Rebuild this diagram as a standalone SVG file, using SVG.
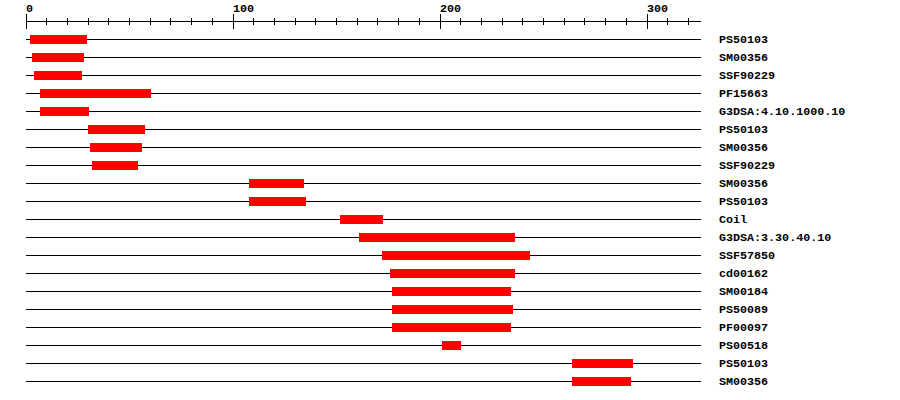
<svg xmlns="http://www.w3.org/2000/svg" width="900" height="400" viewBox="0 0 900 400">
<style>
.bg{fill:#ffffff}
.ax{stroke:#000;stroke-width:1;fill:none;shape-rendering:crispEdges}
.tk{stroke:#000;stroke-width:1;shape-rendering:crispEdges}
.ln{stroke:#000;stroke-width:1;shape-rendering:crispEdges}
.bar{fill:#ff0000;shape-rendering:crispEdges}
text{font-family:"Liberation Mono","DejaVu Sans Mono",monospace;font-size:11.7px;font-weight:bold;fill:#000}
</style>
<rect class="bg" x="0" y="0" width="900" height="400"/>
<g id="axis">
<line class="ax" x1="26" y1="21.5" x2="701" y2="21.5"/>
<path class="tk" d="M26.5 14V29M233.5 14V29M440.5 14V29M647.5 14V29"/>
<path class="tk" d="M46.5 18V25M67.5 18V25M88.5 18V25M108.5 18V25M129.5 18V25M150.5 18V25M170.5 18V25M191.5 18V25M212.5 18V25M253.5 18V25M274.5 18V25M295.5 18V25M315.5 18V25M336.5 18V25M357.5 18V25M377.5 18V25M398.5 18V25M419.5 18V25M460.5 18V25M481.5 18V25M502.5 18V25M522.5 18V25M543.5 18V25M564.5 18V25M584.5 18V25M605.5 18V25M626.5 18V25M667.5 18V25M688.5 18V25"/>
<text x="26" y="12">0</text>
<text x="233" y="12">100</text>
<text x="440" y="12">200</text>
<text x="647" y="12">300</text>
</g>
<g id="row1"><line class="ln" x1="26" y1="39.5" x2="701" y2="39.5"/><rect class="bar" x="30" y="35" width="57" height="9"/><text x="719" y="43">PS50103</text></g>
<g id="row2"><line class="ln" x1="26" y1="57.5" x2="701" y2="57.5"/><rect class="bar" x="32" y="53" width="52" height="9"/><text x="719" y="61">SM00356</text></g>
<g id="row3"><line class="ln" x1="26" y1="75.5" x2="701" y2="75.5"/><rect class="bar" x="34" y="71" width="48" height="9"/><text x="719" y="79">SSF90229</text></g>
<g id="row4"><line class="ln" x1="26" y1="93.5" x2="701" y2="93.5"/><rect class="bar" x="40" y="89" width="111" height="9"/><text x="719" y="97">PF15663</text></g>
<g id="row5"><line class="ln" x1="26" y1="111.5" x2="701" y2="111.5"/><rect class="bar" x="40" y="107" width="49" height="9"/><text x="719" y="115">G3DSA:4.10.1000.10</text></g>
<g id="row6"><line class="ln" x1="26" y1="129.5" x2="701" y2="129.5"/><rect class="bar" x="88" y="125" width="57" height="9"/><text x="719" y="133">PS50103</text></g>
<g id="row7"><line class="ln" x1="26" y1="147.5" x2="701" y2="147.5"/><rect class="bar" x="90" y="143" width="52" height="9"/><text x="719" y="151">SM00356</text></g>
<g id="row8"><line class="ln" x1="26" y1="165.5" x2="701" y2="165.5"/><rect class="bar" x="92" y="161" width="46" height="9"/><text x="719" y="169">SSF90229</text></g>
<g id="row9"><line class="ln" x1="26" y1="183.5" x2="701" y2="183.5"/><rect class="bar" x="249" y="179" width="55" height="9"/><text x="719" y="187">SM00356</text></g>
<g id="row10"><line class="ln" x1="26" y1="201.5" x2="701" y2="201.5"/><rect class="bar" x="249" y="197" width="57" height="9"/><text x="719" y="205">PS50103</text></g>
<g id="row11"><line class="ln" x1="26" y1="219.5" x2="701" y2="219.5"/><rect class="bar" x="340" y="215" width="43" height="9"/><text x="719" y="223">Coil</text></g>
<g id="row12"><line class="ln" x1="26" y1="237.5" x2="701" y2="237.5"/><rect class="bar" x="359" y="233" width="156" height="9"/><text x="719" y="241">G3DSA:3.30.40.10</text></g>
<g id="row13"><line class="ln" x1="26" y1="255.5" x2="701" y2="255.5"/><rect class="bar" x="382" y="251" width="148" height="9"/><text x="719" y="259">SSF57850</text></g>
<g id="row14"><line class="ln" x1="26" y1="273.5" x2="701" y2="273.5"/><rect class="bar" x="390" y="269" width="125" height="9"/><text x="719" y="277">cd00162</text></g>
<g id="row15"><line class="ln" x1="26" y1="291.5" x2="701" y2="291.5"/><rect class="bar" x="392" y="287" width="119" height="9"/><text x="719" y="295">SM00184</text></g>
<g id="row16"><line class="ln" x1="26" y1="309.5" x2="701" y2="309.5"/><rect class="bar" x="392" y="305" width="121" height="9"/><text x="719" y="313">PS50089</text></g>
<g id="row17"><line class="ln" x1="26" y1="327.5" x2="701" y2="327.5"/><rect class="bar" x="392" y="323" width="119" height="9"/><text x="719" y="331">PF00097</text></g>
<g id="row18"><line class="ln" x1="26" y1="345.5" x2="701" y2="345.5"/><rect class="bar" x="442" y="341" width="19" height="9"/><text x="719" y="349">PS00518</text></g>
<g id="row19"><line class="ln" x1="26" y1="363.5" x2="701" y2="363.5"/><rect class="bar" x="572" y="359" width="61" height="9"/><text x="719" y="367">PS50103</text></g>
<g id="row20"><line class="ln" x1="26" y1="381.5" x2="701" y2="381.5"/><rect class="bar" x="572" y="377" width="59" height="9"/><text x="719" y="385">SM00356</text></g>
</svg>
